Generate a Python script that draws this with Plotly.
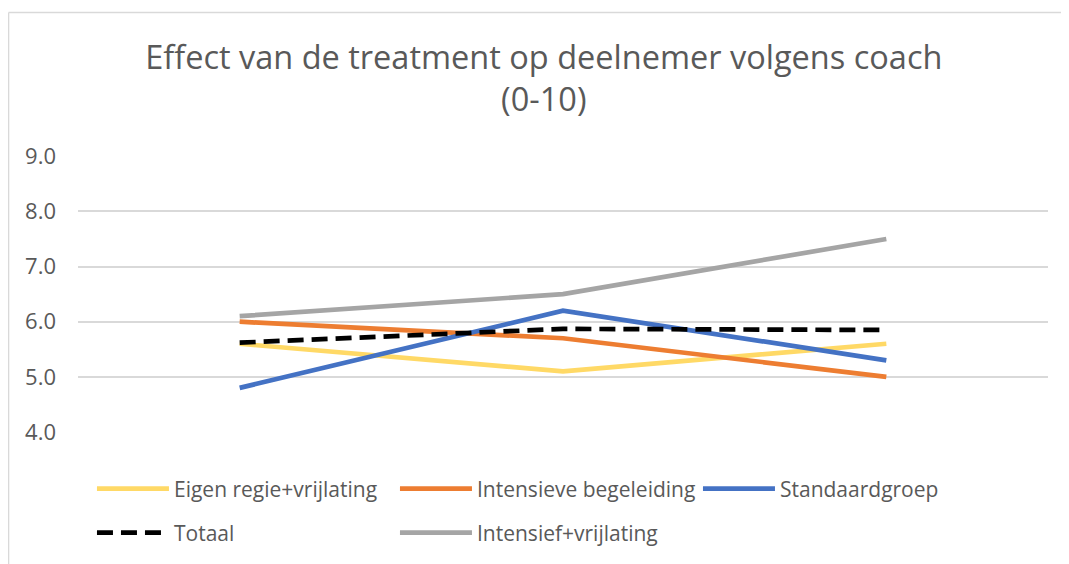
import plotly.graph_objects as go

categories = ["Meting 1", "Meting 2", "Meting 3"]
eigen_regie = [5.6, 5.1, 5.6]
intensieve = [6.0, 5.7, 5.0]
standaard = [4.8, 6.2, 5.3]
totaal = [5.62, 5.87, 5.85]
intensief_vrij = [6.1, 6.5, 7.5]

# name, values, colour, dash, legend row
series = [
    ("Eigen regie+vrijlating", eigen_regie, "#FFD966", "solid", "legend"),
    ("Intensieve begeleiding", intensieve, "#ED7D31", "solid", "legend"),
    ("Standaardgroep", standaard, "#4472C4", "solid", "legend"),
    ("Totaal", totaal, "#000000", "16px,8px", "legend2"),
    ("Intensief+vrijlating", intensief_vrij, "#A5A5A5", "solid", "legend2"),
]

fig = go.Figure()
for name, vals, color, dash, leg in series:
    fig.add_trace(go.Scatter(x=categories, y=vals, mode="lines", name=name, legend=leg,
                             line=dict(color=color, width=4.7, dash=dash)))

legend_style = dict(orientation="h", xanchor="left", yanchor="middle",
                    entrywidth=216, entrywidthmode="pixels", itemwidth=72,
                    font=dict(family="Open Sans", size=21, color="#595959"))

border = dict(color="#d9d9d9", width=1.5)

fig.update_layout(
    width=1061, height=556,
    paper_bgcolor="white", plot_bgcolor="white",
    margin=dict(l=70, r=21, t=148, b=131),
    font=dict(family="Open Sans, Arial, sans-serif", color="#595959", size=20),
    title=dict(text="Effect van de treatment op deelnemer volgens coach<br>(0-10)",
               x=0.505, xanchor="center", y=0.891, yanchor="middle",
               font=dict(family="Open Sans", size=32.5, color="#595959")),
    xaxis=dict(showticklabels=False, showgrid=False, zeroline=False, showline=False,
               range=[-0.5, 2.5]),
    yaxis=dict(range=[4, 9.005], dtick=1, tickformat=".1f", gridcolor="#d9d9d9", gridwidth=1.5,
               zeroline=False, showline=False, ticks="", ticklabelstandoff=21,
               tickfont=dict(family="Open Sans", size=22, color="#595959")),
    legend=dict(x=0.0144, y=-0.202, **legend_style),
    legend2=dict(x=0.0144, y=-0.361, **legend_style),
    shapes=[
        dict(type="line", xref="paper", yref="paper", x0=-0.0716, x1=-0.0716, y0=-0.7, y1=1.52, line=border),
        dict(type="line", xref="paper", yref="paper", x0=-0.0716, x1=1.05, y0=1.52, y1=1.52, line=border),
    ],
)

fig.write_html("out.html")
